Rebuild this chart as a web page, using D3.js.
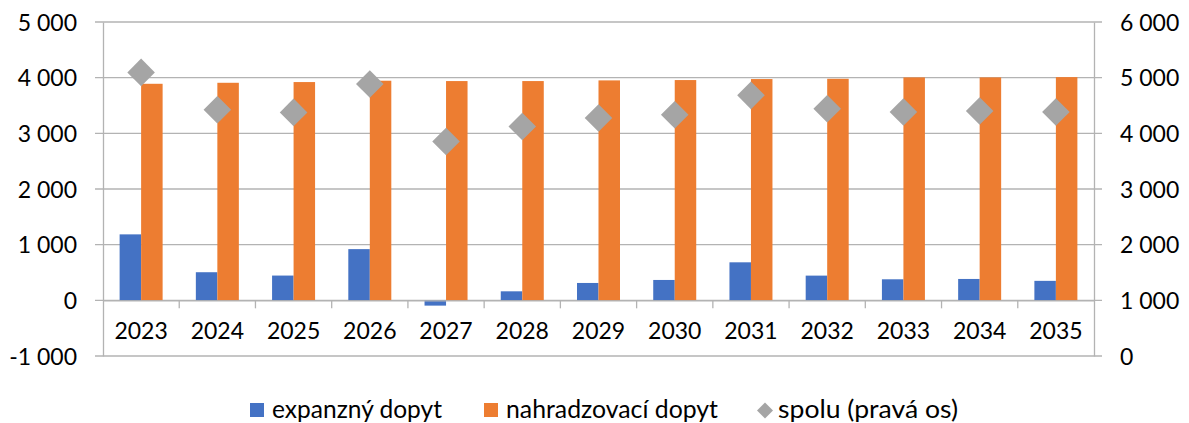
<!DOCTYPE html>
<html>
<head>
<meta charset="utf-8">
<script src="https://cdn.jsdelivr.net/npm/d3@7"></script>
<style>
  body { margin: 0; background: #fff; }
  text { font-family: Lato, "Open Sans", sans-serif; fill: #000; }
</style>
</head>
<body>
<script>
// data
var roky = ["2023","2024","2025","2026","2027","2028","2029","2030","2031","2032","2033","2034","2035"]
var expanzny = [1185, 505, 445, 920, -95, 162, 312, 366, 683, 444, 378, 384, 350]
var nahradzovaci = [3890, 3908, 3921, 3945, 3939, 3939, 3951, 3957, 3975, 3980, 4005, 4005, 4010]
var spolu = [5095, 4424, 4376, 4887, 3854, 4124, 4275, 4335, 4682, 4442, 4383, 4401, 4383]
var ticksLeft = [-1000, 0, 1000, 2000, 3000, 4000, 5000]
var ticksRight = [0, 1000, 2000, 3000, 4000, 5000, 6000]
var nazvy = ["expanzný dopyt", "nahradzovací dopyt", "spolu (pravá os)"]

var width = 1189
var height = 423
var margin = {top: 22, bottom: 67, left: 103, right: 95}

var farby = ["#4472C4", "#ED7D31", "#A5A5A5"]
var fmt = function (v) { return d3.format(",")(v).replace(/,/g, " ").replace("−", "-") }

var svg = d3.select("body").append("svg")
    .attr("width", width)
    .attr("height", height)

var escalaX = d3.scaleBand()
    .domain(roky)
    .range([margin.left, width - margin.right])
    .paddingInner(0)

var escalaY = d3.scaleLinear()
    .domain([-1000, 5000])
    .range([height - margin.bottom, margin.top])

var escalaY2 = d3.scaleLinear()
    .domain([0, 6000])
    .range([height - margin.bottom, margin.top])

var sub = d3.scaleBand()
    .domain([0, 1])
    .range([0, 43])

var gris = "#B3B3B3"

// gridlines
svg.append("g")
    .selectAll("line")
    .data(ticksLeft)
    .enter()
    .append("line")
    .attr("x1", margin.left - 8)
    .attr("x2", width - margin.right + 8)
    .attr("y1", d => escalaY(d))
    .attr("y2", d => escalaY(d))
    .attr("stroke", gris)
    .attr("stroke-width", 1.3)

// left axis
var ejeY = d3.axisLeft(escalaY).tickValues(ticksLeft).tickFormat(fmt).tickSize(0).tickPadding(26)
var gY = svg.append("g")
    .attr("transform", "translate(" + margin.left + ",0)")
    .call(ejeY)
gY.select(".domain").attr("stroke", gris).attr("stroke-width", 1.3)
gY.selectAll("text").style("font-size", "23px").attr("dy", "0.36em")

// right axis
var ejeY2 = d3.axisRight(escalaY2).tickValues(ticksRight).tickFormat(fmt).tickSize(0).tickPadding(26)
var gY2 = svg.append("g")
    .attr("transform", "translate(" + (width - margin.right) + ",0)")
    .call(ejeY2)
gY2.select(".domain").attr("stroke", gris).attr("stroke-width", 1.3)
gY2.selectAll("text").style("font-size", "23px").attr("dy", "0.36em")

// bars
var grupos = svg.append("g")
    .selectAll("g")
    .data(roky)
    .enter()
    .append("g")
    .attr("transform", d => "translate(" + (escalaX(d) + escalaX.bandwidth() / 2 - 21.5) + ",0)")

grupos.append("rect")
    .attr("x", sub(0))
    .attr("width", sub.bandwidth())
    .attr("y", (d, i) => escalaY(Math.max(0, expanzny[i])))
    .attr("height", (d, i) => Math.abs(escalaY(expanzny[i]) - escalaY(0)))
    .attr("fill", farby[0])

grupos.append("rect")
    .attr("x", sub(1))
    .attr("width", sub.bandwidth())
    .attr("y", (d, i) => escalaY(nahradzovaci[i]))
    .attr("height", (d, i) => escalaY(0) - escalaY(nahradzovaci[i]))
    .attr("fill", farby[1])

// x axis at zero
var ejeX = d3.axisBottom(escalaX).tickSize(0).tickPadding(22)
var gX = svg.append("g")
    .attr("transform", "translate(0," + escalaY(0) + ")")
    .call(ejeX)
gX.select(".domain").attr("stroke", gris).attr("stroke-width", 1.3)
gX.selectAll("text").style("font-size", "23px")
gX.selectAll(".sep")
    .data(roky.slice(1))
    .enter()
    .append("line")
    .attr("class", "sep")
    .attr("x1", d => escalaX(d))
    .attr("x2", d => escalaX(d))
    .attr("y1", 0)
    .attr("y2", 8)
    .attr("stroke", gris)
    .attr("stroke-width", 1.3)

// diamonds on right axis
var diamante = d3.symbol().type(d3.symbolSquare).size(380)
svg.append("g")
    .selectAll("path")
    .data(roky)
    .enter()
    .append("path")
    .attr("d", diamante)
    .attr("transform", (d, i) => "translate(" + (escalaX(d) + escalaX.bandwidth() / 2) + "," + escalaY2(spolu[i]) + ") rotate(45)")
    .attr("fill", farby[2])

// legend
var leyenda = [
    {x: 250, tx: 272, w: 170},
    {x: 484, tx: 506, w: 212},
    {x: 765, tx: 778, w: 180}
]
var gL = svg.append("g")
leyenda.forEach(function (l, i) {
    if (i < 2) {
        gL.append("rect")
            .attr("x", l.x).attr("y", 403)
            .attr("width", 14).attr("height", 14)
            .attr("fill", farby[i])
    } else {
        gL.append("path")
            .attr("d", d3.symbol().type(d3.symbolSquare).size(128))
            .attr("transform", "translate(" + l.x + ",410.5) rotate(45)")
            .attr("fill", farby[i])
    }
    gL.append("text")
        .attr("x", l.tx).attr("y", 417.5)
        .attr("textLength", l.w)
        .attr("lengthAdjust", "spacingAndGlyphs")
        .style("font-size", "25px")
        .text(nazvy[i])
})
</script>
</body>
</html>
